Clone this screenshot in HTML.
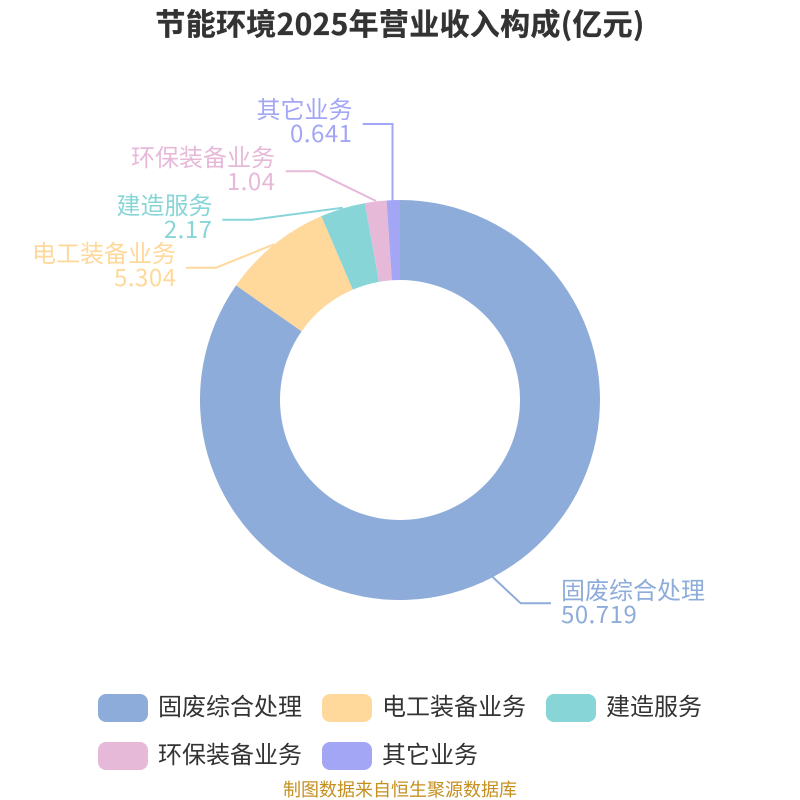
<!DOCTYPE html>
<html><head><meta charset="utf-8"><style>
html,body{margin:0;padding:0;background:#fff}
svg{display:block}
text{font-family:"Noto Sans CJK SC",sans-serif}
.d{letter-spacing:.5px}
</style></head><body>
<svg width="800" height="800" viewBox="0 0 800 800" xmlns="http://www.w3.org/2000/svg">
<rect width="800" height="800" fill="#fff"/>
<text x="400" y="35" text-anchor="middle" font-size="30" font-weight="700" fill="#333" stroke="#333" stroke-width=".3" letter-spacing=".3">节能环境2025年营业收入构成(亿元)</text>
<g>
<path fill="#8eacd9" d="M400 200A200 200 0 1 1 236.06 285.42L301.64 331.25A120 120 0 1 0 400 280Z"/>
<path fill="#ffd89b" d="M236.06 285.42A200 200 0 0 1 321.34 216.12L352.8 289.67A120 120 0 0 0 301.64 331.25Z"/>
<path fill="#88d5d8" d="M321.34 216.12A200 200 0 0 1 364.9 203.1L378.94 281.86A120 120 0 0 0 352.8 289.67Z"/>
<path fill="#e7b9d9" d="M364.9 203.1A200 200 0 0 1 386.54 200.45L391.92 280.27A120 120 0 0 0 378.94 281.86Z"/>
<path fill="#a3a5f5" d="M386.54 200.45A200 200 0 0 1 400 200L400 280A120 120 0 0 0 391.92 280.27Z"/>
</g>
<g fill="none" stroke-width="2">
<path stroke="#8eacd9" d="M492.3 576.7L520.7 603.3H551"/>
<path stroke="#ffd89b" d="M274 244.3L216 267.7H186"/>
<path stroke="#88d5d8" d="M342.7 207.7L252.3 219.7H222.3"/>
<path stroke="#e7b9d9" d="M376 201L315 171.3H285.7"/>
<path stroke="#a3a5f5" d="M392.5 201V124H362.7"/>
</g>
<g font-size="24">
<text x="561" y="599" fill="#8eacd9">固废综合处理</text>
<text class="d" x="561" y="623" fill="#8eacd9">50.719</text>
<text x="176" y="262" text-anchor="end" fill="#ffd89b">电工装备业务</text>
<text class="d" x="176.5" y="286" text-anchor="end" fill="#ffd89b">5.304</text>
<text x="212.5" y="214" text-anchor="end" fill="#88d5d8">建造服务</text>
<text class="d" x="212.5" y="238" text-anchor="end" fill="#88d5d8">2.17</text>
<text x="275" y="166" text-anchor="end" fill="#e7b9d9">环保装备业务</text>
<text class="d" x="275.5" y="190" text-anchor="end" fill="#e7b9d9">1.04</text>
<text x="352.5" y="118" text-anchor="end" fill="#a3a5f5">其它业务</text>
<text class="d" x="352.5" y="142" text-anchor="end" fill="#a3a5f5">0.641</text>
</g>
<rect x="98" y="694" width="50" height="28" rx="8" fill="#8eacd9"/>
<rect x="322" y="694" width="50" height="28" rx="8" fill="#ffd89b"/>
<rect x="546" y="694" width="50" height="28" rx="8" fill="#88d5d8"/>
<rect x="98" y="742" width="50" height="28" rx="8" fill="#e7b9d9"/>
<rect x="322" y="742" width="50" height="28" rx="8" fill="#a3a5f5"/>
<g font-size="24" fill="#333">
<text x="158" y="715">固废综合处理</text>
<text x="382" y="715">电工装备业务</text>
<text x="606" y="715">建造服务</text>
<text x="158" y="763">环保装备业务</text>
<text x="382" y="763">其它业务</text>
</g>
<text x="400" y="796" text-anchor="middle" font-size="18" fill="#c48f1f">制图数据来自恒生聚源数据库</text>
</svg>
</body></html>
